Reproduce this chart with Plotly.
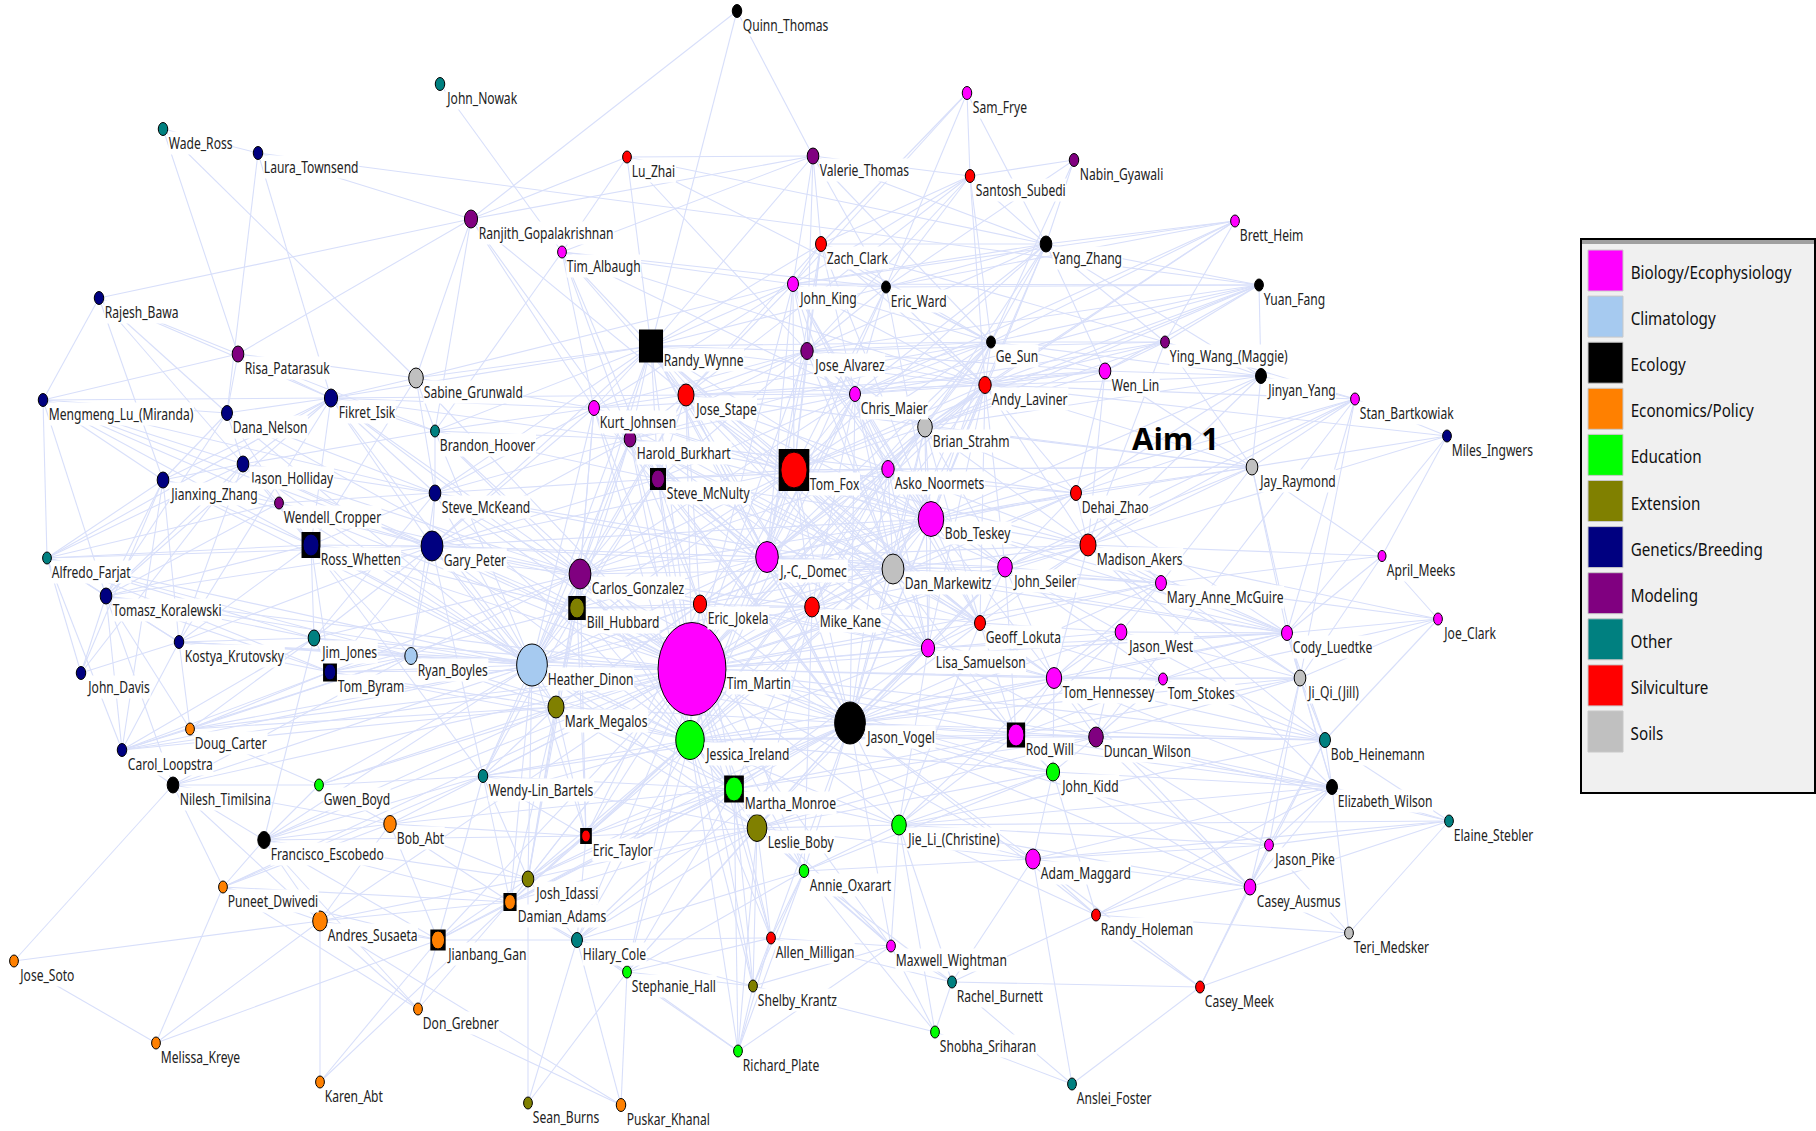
import plotly.graph_objects as go

GROUPS = ["Biology/Ecophysiology","Climatology","Ecology","Economics/Policy","Education","Extension",
          "Genetics/Breeding","Modeling","Other","Silviculture","Soils"]
GROUP_COLORS = ["#ff00ff","#a6caf0","#000000","#ff8000","#00ff00","#808000","#000080","#800080","#008080","#ff0000","#c0c0c0"]
BIO,CLI,ECO,ECN,EDU,EXT,GEN,MOD,OTH,SIL,SOI = range(11)

codes = """QT JN WR LT LZ RG TA RB RP RW SG MM DN FI KJ JS BH HB JH JZ SM WC SK RO GP JD AF TF
SF VT SS NG ZC YZ BR EW YF JK GS YW JA WL JY AL CM SB BS MI JR AN DZ BT MA AM
TK CG BB EJ KK JJ RY TB JO HD TM MG DC JI CL NT GB WB MR BA LB FE ET JL PD DA AS JG HC AE JT SH SZ DG MK RI KA SE PK
DM JE MC MH GL JW CU JC LS TH TS JQ VO RD DW BN JB EL ES JP PI AD AO CA RH TE MW RC CK SR AY""".split()
names = ["Quinn_Thomas","John_Nowak","Wade_Ross","Laura_Townsend","Lu_Zhai","Ranjith_Gopalakrishnan","Tim_Albaugh","Rajesh_Bawa","Risa_Patarasuk","Randy_Wynne","Sabine_Grunwald","Mengmeng_Lu_(Miranda)","Dana_Nelson","Fikret_Isik","Kurt_Johnsen","Jose_Stape","Brandon_Hoover","Harold_Burkhart","Jason_Holliday","Jianxing_Zhang","Steve_McNulty","Wendell_Cropper","Steve_McKeand","Ross_Whetten","Gary_Peter","J,-C,_Domec","Alfredo_Farjat","Tom_Fox",
"Sam_Frye","Valerie_Thomas","Santosh_Subedi","Nabin_Gyawali","Zach_Clark","Yang_Zhang","Brett_Heim","Eric_Ward","Yuan_Fang","John_King","Ge_Sun","Ying_Wang_(Maggie)","Jose_Alvarez","Wen_Lin","Jinyan_Yang","Andy_Laviner","Chris_Maier","Stan_Bartkowiak","Brian_Strahm","Miles_Ingwers","Jay_Raymond","Asko_Noormets","Dehai_Zhao","Bob_Teskey","Madison_Akers","April_Meeks",
"Tomasz_Koralewski","Carlos_Gonzalez","Bill_Hubbard","Eric_Jokela","Kostya_Krutovsky","Jim_Jones","Ryan_Boyles","Tom_Byram","John_Davis","Heather_Dinon","Tim_Martin","Mark_Megalos","Doug_Carter","Jessica_Ireland","Carol_Loopstra","Nilesh_Timilsina","Gwen_Boyd","Wendy-Lin_Bartels","Martha_Monroe","Bob_Abt","Leslie_Boby","Francisco_Escobedo","Eric_Taylor","Josh_Idassi","Puneet_Dwivedi","Damian_Adams","Andres_Susaeta","Jianbang_Gan","Hilary_Cole","Allen_Milligan","Jose_Soto","Stephanie_Hall","Shelby_Krantz","Don_Grebner","Melissa_Kreye","Richard_Plate","Karen_Abt","Sean_Burns","Puskar_Khanal",
"Dan_Markewitz","John_Seiler","Mary_Anne_McGuire","Mike_Kane","Geoff_Lokuta","Jason_West","Cody_Luedtke","Joe_Clark","Lisa_Samuelson","Tom_Hennessey","Tom_Stokes","Ji_Qi_(Jill)","Jason_Vogel","Rod_Will","Duncan_Wilson","Bob_Heinemann","John_Kidd","Elizabeth_Wilson","Elaine_Stebler","Jie_Li_(Christine)","Jason_Pike","Adam_Maggard","Annie_Oxarart","Casey_Ausmus","Randy_Holeman","Teri_Medsker","Maxwell_Wightman","Rachel_Burnett","Casey_Meek","Shobha_Sriharan","Anslei_Foster"]
group = [ECO,OTH,OTH,GEN,SIL,MOD,BIO,GEN,MOD,ECO,SOI,GEN,GEN,GEN,BIO,SIL,OTH,MOD,GEN,GEN,MOD,MOD,GEN,GEN,GEN,BIO,OTH,SIL,
BIO,MOD,SIL,MOD,SIL,ECO,BIO,ECO,ECO,BIO,ECO,MOD,MOD,BIO,ECO,SIL,BIO,BIO,SOI,GEN,SOI,BIO,SIL,BIO,SIL,BIO,
GEN,MOD,EXT,SIL,GEN,OTH,CLI,GEN,GEN,CLI,BIO,EXT,ECN,EDU,GEN,ECO,EDU,OTH,EDU,ECN,EXT,ECO,SIL,EXT,ECN,ECN,ECN,ECN,OTH,SIL,ECN,EDU,EXT,ECN,ECN,EDU,ECN,EXT,ECN,
SOI,BIO,BIO,SIL,SIL,BIO,BIO,BIO,BIO,BIO,BIO,SOI,ECO,BIO,MOD,OTH,EDU,ECO,OTH,EDU,BIO,BIO,EDU,BIO,SIL,SOI,BIO,OTH,SIL,EDU,OTH]
xs = [737,440,163,258,627,471,562,99,238,651,416,43,227,331,594,686,435,630,243,163,658,279,435,311,432,767,47,794,
967,813,970,1074,821,1046,1235,886,1259,793,991,1165,807,1105,1261,985,855,1355,925,1447,1252,888,1076,931,1088,1382,
106,580,577,700,179,314,411,330,81,532,692,556,190,690,122,173,319,483,734,390,757,264,586,528,223,510,320,438,577,771,14,627,753,418,156,738,320,528,621,
893,1005,1161,812,980,1121,1287,1438,928,1054,1163,1300,850,1016,1096,1325,1053,1332,1449,899,1269,1033,804,1250,1096,1349,891,952,1200,935,1072]
ys = [11,84,129,153,157,219,252,298,354,346,378,400,413,398,408,395,431,439,464,480,479,503,493,545,546,557,558,470,
93,156,176,160,244,244,221,287,285,284,342,342,351,371,376,385,394,399,427,436,467,469,493,519,545,556,
596,574,608,604,642,638,656,672,673,665,669,707,729,740,750,785,785,776,789,824,828,840,836,879,887,902,921,940,940,938,961,972,986,1009,1043,1051,1082,1103,1105,
569,567,583,607,623,632,633,619,648,678,679,678,723,735,737,740,772,787,821,825,845,859,871,887,915,933,946,982,987,1032,1084]
heights = [13,13,13,13,12,18,12,13,16,33,20,13,15,18,15,22,12,16,16,16,18,12,16,22,30,31,12,36,
13,16,13,13,15,16,12,12,12,15,12,12,17,16,15,17,15,12,20,12,16,17,15,35,22,11,
16,30,20,18,13,16,17,16,13,42,93,22,12,39,13,16,12,13,24,17,27,17,12,16,12,15,20,18,15,12,12,12,12,12,12,12,12,12,13,
30,20,15,20,15,16,15,12,18,21,12,16,42,22,20,15,18,15,12,20,12,20,13,16,12,12,12,12,12,12,12]
squares = {"RW":33,"SM":22,"RO":26,"TF":42,"BB":24,"TB":19,"MR":27,"ET":16,"DA":18,"JG":21,"RD":25}

neighbours = {
"QT":"RW RG VT","JN":"TA","WR":"LT RP SG","LT":"RG FI DN YF","RB":"RG RP MM JZ DN FI JH",
"MM":"RP FI DN JZ JH AF TK WC RO SK GP","DN":"FI JH JZ RP SK RO TK",
"FI":"SG KJ JS RW RP SK RO GP JH JZ BH HB TK KK AF","JH":"JZ RO GP SK WC BH TK AF JO KK HD",
"JZ":"WC RO AF TK JO CL KK GP","WC":"RO GP SK AF TK HD CG TM","SK":"GP RO BH HB SM RW KJ CG HD TM JD JJ RY",
"RO":"GP AF TK KK JJ TB RY HD CG TM BB WB","GP":"AF TK KK JJ TB RY HD CG BB TM JD EJ MG JI BT DM SM HB RW KJ TF WB",
"AF":"TK KK JO CL HD TB JJ RY","TK":"KK JO CL JJ TB DC NT HD","KK":"JO CL JJ TB DC RY","CL":"DC JJ TB RY NT MG HD",
"DC":"TB RY HD JJ GB MG","JJ":"TB RY HD TM FE CG","TB":"RY HD TM MG CG BB JI","RY":"HD TM CG MG JI NT",
"NT":"FE PD JT GB BA AS","GB":"FE BA TM MG WB HD","FE":"BA PD AS JG DA JL ET HD MG TM DG WB",
"BA":"AS PD JL DA JG ET TM JI MR","PD":"AS JG DA MK WB DG","AS":"JT MK JG DA DG KA JL TM","MK":"JT JG","KA":"JG DA",
"DG":"JG DA PK","JG":"DA JL HC WB MR TM","SE":"HC SH JL","PK":"HC SH AS","DA":"JL HC ET WB MG TM JI MR LB SH",
"JL":"ET WB MG TM JI HC MR LB HD CG BB","HC":"SH AE SZ LB RI MR JI TM ET AO","SH":"AE RI SZ LB MR TM JI AO",
"RI":"SZ AE LB MR JI AO MW","SZ":"LB AO SR MR JI AE MW","AE":"LB MR JI TM AO MW RC",
"WB":"MG HD JI TM LB ET CG BB MR","ET":"LB MR JI TM MG HD BB CG EJ VO DM","MW":"RC SR AO JP LB MR",
"RC":"SR AY AO JP AD AE RH","SR":"AY JP AO","AY":"CK AD","CK":"RH CA AD TE RC PI","RH":"AD CA TE PI JB EL JP VO",
"TE":"CA EL PI ES","CA":"PI AD EL ES BN JB DW TH JP JQ","PI":"AD EL ES BN JP JQ DW VO","ES":"EL BN AD JP DW",
"EL":"BN DW RD JB AD JP TH JQ CU VO MA","BN":"DW RD JQ CU JW TS TH JC MA TM VO JP","JB":"DW RD JP AD TH LS VO AO LB",
"AD":"JP VO TM LB AO","JP":"VO JI MR LB AO TM RD LS GL TH","AO":"MR LB JI TM VO EJ MH",
"JC":"CU AM MC JQ MA TS","AM":"CU JR MI MC MA JQ","JQ":"CU JR MC JW TS TH RD DW MA SB",
"CU":"JW MC MA JR TS TH DM LS DZ BT SB JE","MC":"JW MA DZ JE DM BT TH GL JR","MI":"SB JR CU MA AL",
"SB":"JY JR MA DZ YW AL JE BT DW","JR":"JY WL YW MA DZ BT AN JS TF BS AL JE","JY":"YW WL GS AL YZ YF BS MA DZ BT",
"YW":"WL GS YF YZ AL BS BR MA JA CM ZC","WL":"AL GS YF YZ BS CM JA JS MA DZ","YF":"EW JK GS YZ AL BS JA CM TF",
"BR":"YZ AL BS CM JK GS EW","YZ":"EW GS JK ZC AL VT NG SS JA BS CM TF BT LZ","NG":"SS GS EW","SF":"SS EW ZC JK YZ",
"SS":"VT ZC JK EW GS AL JA JS","VT":"ZC JK EW RW LZ RG GS TA JA","ZC":"JK EW JA GS AL CM RW TF JS",
"EW":"JK JA GS CM RW TF AL TA","JK":"JA GS RW TA AL CM TF JS KJ AN BT SG","GS":"JA RW AL CM JS TF AN BT BS TM HB",
"JA":"RW CM AL JS TF KJ AN BS BT HB SM DM","AL":"CM BS AN BT TF JS DZ MA DM JE GL TM RW",
"CM":"BS AN TF JS RW KJ BT HB SM DM JD","BS":"AN BT TF DM JE MA DZ TM JD GL","DZ":"MA BT AN JE DM TF",
"MA":"BT JE DM JD GL TM TH LS TF AN","AN":"TF BT JS HB DM JD MH TM SM JE",
"TF":"JS RW KJ HB SM BT DM JD TM CG BB EJ MH HD VO JI GL LS JE","JS":"RW KJ HB SM TM JD CG EJ TA",
"RW":"KJ HB SM TM TA SG FI JD CG BH LZ HD","KJ":"HB SM TM CG BH TA SG JD BB","HB":"SM TM CG BH TA JD BB EJ HD",
"SM":"TM CG BB JD EJ HD BH TA","BT":"DM JD TM JE GL LS MH VO CG EJ JI TH RW JS KJ HB SM JK ZC EW GS JA CM AN",
"JD":"DM TM CG BB EJ MH JE LS GL VO JI HD MG RW KJ HB SM JS AL CM AN BS GS JK JA ZC EW SK GP MA DZ MC CU",
"DM":"TM JE MH GL LS VO CG EJ JI TH RD RW KJ HB SM JS AL CM AN GS JK JA SK GP DZ MA MC CU",
"CG":"BB TM EJ HD MG JI MH LS VO MR SK GP RO FI JH WC BH KJ HB SM JS RW AN CM TF BT DM JD",
"BB":"TM EJ HD MG JI MH","EJ":"TM MH HD MG JI VO LS MR",
"MH":"TM JE GL LS VO JI MR LB TH KJ JS HB SM RW CM AN AL BS","JE":"GL LS TM TH VO RD TS JW",
"GL":"LS TM TH VO RD TS JW RW JS CM AL BS DM JD AN HB","LS":"TM TH VO JI MR RD LB DW RW KJ JS CM AN AL BS DM JD",
"JW":"TH TS VO RD DW","TH":"TS VO RD TM JI DW","TS":"VO RD DW","RD":"VO DW TM JI MR LB","DW":"VO TM JI LB MR",
"VO":"TM JI MR LB HD MG RW KJ JS HB SM CM AN BS AL CG BB EJ WB ET JL DA HC SH AE MW AO JP AD JB DW EL BN CA PI JQ CU MC JW",
"HD":"TM MG JI MR LB FI JH DN JZ TK KK WC SK GP RO JJ TB RY DC GB WB NT ET JL DA MH EJ BT DM JD KJ HB SM RW JS TF",
"MG":"TM JI MR LB",
"TM":"JI MR LB KJ JS HB RW CM AN BS AL GS JA JK SK GP RO WC JH DN FI SG BH JJ TB RY KK TK CL DC NT GB BA FE PD JG DA JL ET HC SH AE SZ MW AO JP AD JB DW RD TH TS JW GL LS MH DM JD BT MA DZ CU MC JE",
"JI":"MR LB TF CM AN BS DM JD BT KJ HB SM SK GP RO TB RY WB ET JL DA HC SH AE RI SZ AO JP JB","MR":"LB",
"TA":"BH CM AL JK","RG":"RP SG KJ JS HB LZ VT BH","LZ":"TA GS JA","BH":"SG RP HD TM","SG":"RP SK RO"}

idx = {c: i for i, c in enumerate(codes)}
pairs = sorted({tuple(sorted((a, b))) for a, v in neighbours.items() for b in v.split() if a != b})
ex, ey = [], []
for a, b in pairs:
    ex += [xs[idx[a]], xs[idx[b]], None]
    ey += [ys[idx[a]], ys[idx[b]], None]

ASPECT = 0.73
fig = go.Figure()
fig.add_trace(go.Scatter(x=ex, y=ey, mode="lines", line=dict(color="#d8dffa", width=1.1), hoverinfo="skip", showlegend=False))

shapes, annotations = [], []
for i, c in enumerate(codes):
    x, y, h = xs[i], ys[i], heights[i]
    w = h * ASPECT
    half = w / 2
    if c in squares:
        sh = squares[c]
        half = sh * ASPECT / 2
        shapes.append(dict(type="rect", xref="x", yref="y", x0=x-half, x1=x+half, y0=y-sh/2, y1=y+sh/2,
                           fillcolor="#000000", line=dict(color="#000000", width=0), layer="above"))
    if c != "RW":
        shapes.append(dict(type="circle", xref="x", yref="y", x0=x-w/2, x1=x+w/2, y0=y-h/2, y1=y+h/2,
                           fillcolor=GROUP_COLORS[group[i]], line=dict(color="#000000", width=1), layer="above"))
    annotations.append(dict(x=x+half, y=y+13.5, xref="x", yref="y", text=names[i], showarrow=False, xanchor="left",
                            yanchor="middle", bgcolor="#ffffff", borderpad=0,
                            font=dict(family="Noto Sans", size=16, color="#222222")))

for g, name in enumerate(GROUPS):
    members = [i for i in range(len(codes)) if group[i] == g]
    fig.add_trace(go.Scatter(x=[xs[i] for i in members], y=[ys[i] for i in members], mode="markers",
                             marker=dict(size=8, color=GROUP_COLORS[g], opacity=0), name=name,
                             text=[names[i] for i in members], hoverinfo="text", showlegend=False))

shapes.append(dict(type="rect", xref="x", yref="y", x0=1581, x1=1815, y0=239, y1=793, fillcolor="#f0f0f0",
                   line=dict(color="#000000", width=2), layer="above"))
shapes.append(dict(type="rect", xref="x", yref="y", x0=1582, x1=1814, y0=240, y1=244, fillcolor="#a0a0a0",
                   line=dict(width=0), layer="above"))
for g, name in enumerate(GROUPS):
    top = 250 + g * 46.1
    shapes.append(dict(type="rect", xref="x", yref="y", x0=1588, x1=1623, y0=top, y1=top+41,
                       fillcolor=GROUP_COLORS[g], line=dict(color="#c8c8c8", width=1), layer="above"))
    annotations.append(dict(x=1629, y=top+22, xref="x", yref="y", text=name, showarrow=False, xanchor="left",
                            yanchor="middle", font=dict(family="Noto Sans", size=19, color="#111111")))

annotations.append(dict(x=1175, y=438, xref="x", yref="y", text="<b>Aim 1</b>", showarrow=False,
                        font=dict(family="Open Sans", size=31, color="#000000")))

fig.update_layout(width=1816, height=1131, margin=dict(l=0, r=0, t=0, b=0), paper_bgcolor="#ffffff",
                  plot_bgcolor="#ffffff", shapes=shapes, annotations=annotations, showlegend=False,
                  xaxis=dict(range=[0, 1816], visible=False), yaxis=dict(range=[1131, 0], visible=False))

# The reference's labels are horizontally squeezed; narrow the real text the same way.
squeeze = """
document.body.style.margin='0';document.body.style.overflow='hidden';
document.querySelectorAll('.annotation').forEach(function(a){
  var t=a.querySelector('text'); var g=a.querySelector('.cursor-pointer');
  if(!t||!g) return; var s=t.textContent;
  if(s==='Aim 1') return;
  var k=(t.style.fontSize==='19px')?0.80:0.755;
  g.setAttribute('transform',(g.getAttribute('transform')||'')+' scale('+k+',1)');
});
"""
fig.write_html("out.html", post_script=squeeze, config={"displayModeBar": False})
